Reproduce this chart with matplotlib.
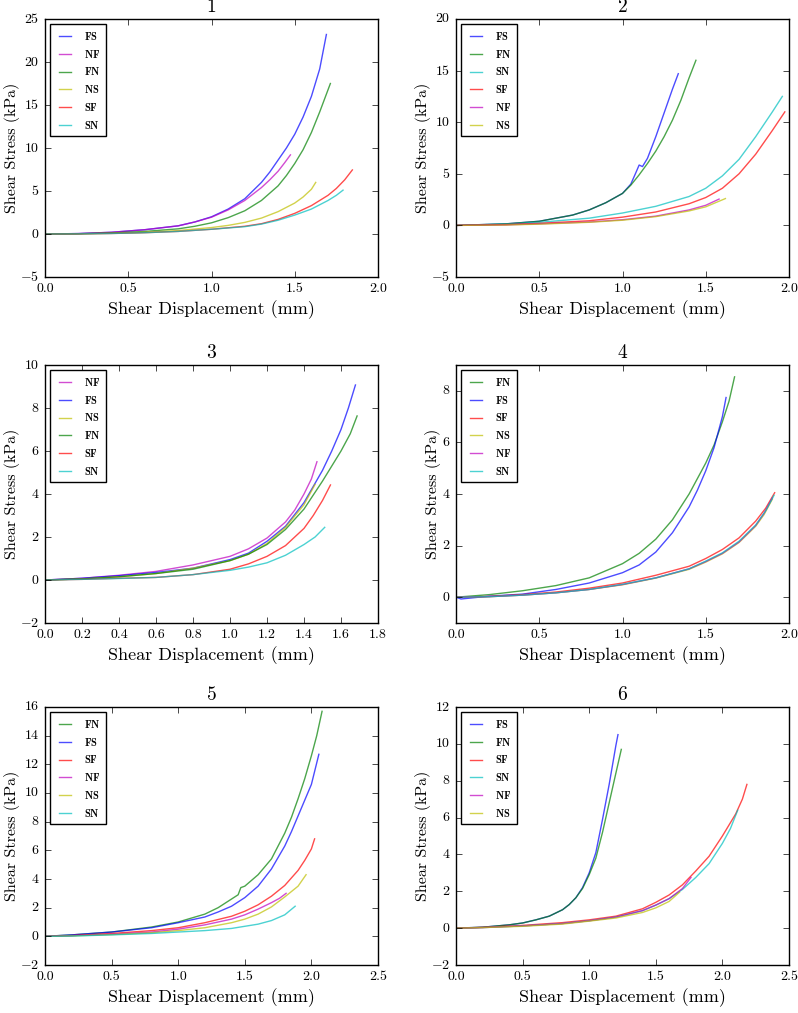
import matplotlib
matplotlib.use("Agg")
import matplotlib.pyplot as plt

# =======================
# Veri
# =======================
# Panel 1
x1_FS = [0, 0.2, 0.4, 0.6, 0.8, 0.9, 1.0, 1.1, 1.2, 1.3, 1.35, 1.4, 1.45, 1.5, 1.55, 1.6, 1.65, 1.69]
y1_FS = [0, 0.05, 0.2, 0.5, 0.95, 1.4, 2.0, 2.9, 4.1, 6.0, 7.2, 8.6, 10.0, 11.6, 13.6, 16.0, 19.2, 23.2]
x1_NF = [0, 0.2, 0.4, 0.6, 0.8, 0.9, 1.0, 1.1, 1.2, 1.3, 1.35, 1.4, 1.44, 1.474]
y1_NF = [0, 0.05, 0.2, 0.5, 0.95, 1.4, 1.95, 2.8, 3.9, 5.4, 6.3, 7.3, 8.3, 9.2]
x1_FN = [0, 0.2, 0.4, 0.6, 0.8, 0.9, 1.0, 1.1, 1.2, 1.3, 1.4, 1.45, 1.5, 1.55, 1.6, 1.65, 1.714]
y1_FN = [0, 0.03, 0.12, 0.3, 0.6, 0.9, 1.3, 1.9, 2.7, 3.9, 5.6, 6.8, 8.2, 9.8, 11.8, 14.2, 17.5]
x1_NS = [0, 0.2, 0.4, 0.6, 0.8, 1.0, 1.1, 1.2, 1.3, 1.4, 1.5, 1.55, 1.6, 1.626]
y1_NS = [0, 0.02, 0.08, 0.2, 0.4, 0.75, 1.0, 1.35, 1.85, 2.6, 3.6, 4.3, 5.2, 6.0]
x1_SF = [0, 0.2, 0.4, 0.6, 0.8, 1.0, 1.2, 1.3, 1.4, 1.5, 1.6, 1.7, 1.75, 1.8, 1.846]
y1_SF = [0, 0.02, 0.06, 0.15, 0.3, 0.55, 0.9, 1.2, 1.7, 2.4, 3.3, 4.5, 5.3, 6.3, 7.45]
x1_SN = [0, 0.2, 0.4, 0.6, 0.8, 1.0, 1.2, 1.3, 1.4, 1.5, 1.6, 1.7, 1.75, 1.79]
y1_SN = [0, 0.02, 0.06, 0.15, 0.3, 0.55, 0.85, 1.15, 1.6, 2.2, 2.9, 3.9, 4.5, 5.1]

# Panel 2
x2_FS = [0, 0.3, 0.5, 0.7, 0.8, 0.9, 1.0, 1.05, 1.08, 1.1, 1.12, 1.15, 1.2, 1.25, 1.3, 1.335]
y2_FS = [0, 0.15, 0.4, 1.0, 1.5, 2.2, 3.1, 4.0, 5.1, 5.85, 5.7, 6.5, 8.6, 10.9, 13.2, 14.7]
x2_FN = [0, 0.3, 0.5, 0.7, 0.8, 0.9, 1.0, 1.05, 1.1, 1.15, 1.2, 1.25, 1.3, 1.35, 1.4, 1.441]
y2_FN = [0, 0.15, 0.4, 1.0, 1.5, 2.2, 3.1, 3.9, 4.9, 6.0, 7.2, 8.6, 10.2, 12.1, 14.3, 16.0]
x2_SN = [0, 0.3, 0.5, 0.8, 1.0, 1.2, 1.4, 1.5, 1.6, 1.7, 1.8, 1.9, 1.96]
y2_SN = [0, 0.12, 0.3, 0.7, 1.2, 1.85, 2.8, 3.6, 4.8, 6.4, 8.6, 11.0, 12.5]
x2_SF = [0, 0.3, 0.5, 0.8, 1.0, 1.2, 1.4, 1.5, 1.6, 1.7, 1.8, 1.9, 1.975]
y2_SF = [0, 0.08, 0.2, 0.45, 0.8, 1.3, 2.1, 2.7, 3.6, 5.0, 6.9, 9.2, 11.0]
x2_NF = [0, 0.3, 0.5, 0.8, 1.0, 1.2, 1.4, 1.5, 1.58]
y2_NF = [0, 0.05, 0.15, 0.33, 0.55, 0.9, 1.5, 1.95, 2.55]
x2_NS = [0, 0.3, 0.5, 0.8, 1.0, 1.2, 1.4, 1.5, 1.618]
y2_NS = [0, 0.04, 0.12, 0.3, 0.5, 0.85, 1.4, 1.8, 2.6]

# Panel 3
x3_NF = [0, 0.2, 0.4, 0.6, 0.8, 1.0, 1.1, 1.2, 1.3, 1.35, 1.4, 1.44, 1.47]
y3_NF = [0, 0.08, 0.22, 0.4, 0.7, 1.1, 1.45, 1.95, 2.7, 3.25, 4.0, 4.7, 5.5]
x3_FS = [0, 0.2, 0.4, 0.6, 0.8, 1.0, 1.1, 1.2, 1.3, 1.4, 1.5, 1.55, 1.6, 1.64, 1.678]
y3_FS = [0, 0.08, 0.2, 0.35, 0.55, 0.95, 1.25, 1.8, 2.5, 3.6, 5.1, 6.0, 7.0, 8.0, 9.07]
x3_NS = [0, 0.2, 0.4, 0.6, 0.8, 1.0, 1.1, 1.2, 1.3, 1.4, 1.46]
y3_NS = [0, 0.05, 0.15, 0.3, 0.55, 0.9, 1.2, 1.7, 2.45, 3.5, 4.45]
x3_FN = [0, 0.2, 0.4, 0.6, 0.8, 1.0, 1.1, 1.2, 1.3, 1.4, 1.5, 1.55, 1.6, 1.65, 1.687]
y3_FN = [0, 0.05, 0.15, 0.3, 0.5, 0.9, 1.2, 1.65, 2.35, 3.3, 4.6, 5.3, 6.0, 6.8, 7.63]
x3_SF = [0, 0.2, 0.4, 0.6, 0.8, 1.0, 1.1, 1.2, 1.3, 1.4, 1.45, 1.5, 1.543]
y3_SF = [0, 0.03, 0.08, 0.12, 0.25, 0.5, 0.75, 1.1, 1.6, 2.4, 3.0, 3.7, 4.42]
x3_SN = [0, 0.2, 0.4, 0.6, 0.8, 1.0, 1.1, 1.2, 1.3, 1.4, 1.46, 1.512]
y3_SN = [0, 0.03, 0.07, 0.12, 0.25, 0.45, 0.6, 0.8, 1.15, 1.65, 2.0, 2.45]

# Panel 4
x4_FN = [0, 0.2, 0.4, 0.6, 0.8, 1.0, 1.1, 1.2, 1.3, 1.4, 1.5, 1.55, 1.6, 1.64, 1.673]
y4_FN = [0, 0.1, 0.25, 0.45, 0.75, 1.3, 1.7, 2.25, 3.0, 4.0, 5.2, 5.9, 6.8, 7.6, 8.54]
x4_FS = [0, 0.03, 0.2, 0.4, 0.6, 0.8, 1.0, 1.1, 1.2, 1.3, 1.4, 1.45, 1.5, 1.55, 1.6, 1.622]
y4_FS = [0, -0.07, 0.04, 0.12, 0.3, 0.55, 0.95, 1.25, 1.75, 2.5, 3.5, 4.15, 4.9, 5.8, 7.0, 7.74]
x4_SF = [0, 0.2, 0.4, 0.6, 0.8, 1.0, 1.2, 1.4, 1.5, 1.6, 1.7, 1.8, 1.86, 1.914]
y4_SF = [0, 0.03, 0.1, 0.2, 0.35, 0.55, 0.85, 1.2, 1.5, 1.85, 2.3, 2.95, 3.45, 4.05]
x4_NS = [0, 0.2, 0.4, 0.6, 0.8, 1.0, 1.2, 1.4, 1.5, 1.6, 1.7, 1.8, 1.85, 1.9]
y4_NS = [0, 0.02, 0.08, 0.17, 0.3, 0.48, 0.74, 1.08, 1.36, 1.68, 2.12, 2.75, 3.2, 3.8]
x4_NF = [0, 0.2, 0.4, 0.6, 0.8, 1.0, 1.2, 1.4, 1.5, 1.6, 1.7, 1.8, 1.85, 1.9]
y4_NF = [0, 0.02, 0.08, 0.17, 0.3, 0.49, 0.75, 1.1, 1.38, 1.7, 2.14, 2.78, 3.25, 3.85]
x4_SN = [0, 0.2, 0.4, 0.6, 0.8, 1.0, 1.2, 1.4, 1.5, 1.6, 1.7, 1.8, 1.86, 1.91]
y4_SN = [0, 0.02, 0.08, 0.17, 0.3, 0.5, 0.75, 1.1, 1.4, 1.72, 2.17, 2.8, 3.35, 3.95]

# Panel 5
x5_FN = [0, 0.2, 0.5, 0.8, 1.0, 1.2, 1.3, 1.4, 1.45, 1.47, 1.5, 1.6, 1.7, 1.8, 1.85, 1.9, 1.95, 2.0, 2.04, 2.08]
y5_FN = [0, 0.1, 0.3, 0.65, 1.0, 1.55, 2.0, 2.6, 2.9, 3.4, 3.5, 4.3, 5.4, 7.2, 8.3, 9.6, 11.0, 12.6, 14.0, 15.7]
x5_FS = [0, 0.2, 0.5, 0.8, 1.0, 1.2, 1.3, 1.4, 1.5, 1.6, 1.7, 1.8, 1.85, 1.9, 1.95, 2.0, 2.056]
y5_FS = [0, 0.1, 0.3, 0.6, 0.95, 1.35, 1.7, 2.1, 2.7, 3.5, 4.7, 6.3, 7.3, 8.4, 9.5, 10.6, 12.7]
x5_SF = [0, 0.2, 0.5, 0.8, 1.0, 1.2, 1.4, 1.5, 1.6, 1.7, 1.8, 1.9, 1.95, 2.0, 2.024]
y5_SF = [0, 0.05, 0.2, 0.4, 0.6, 0.95, 1.4, 1.75, 2.2, 2.8, 3.55, 4.6, 5.3, 6.1, 6.8]
x5_NF = [0, 0.2, 0.5, 0.8, 1.0, 1.2, 1.4, 1.5, 1.6, 1.7, 1.76, 1.81]
y5_NF = [0, 0.05, 0.15, 0.3, 0.5, 0.8, 1.2, 1.5, 1.9, 2.35, 2.65, 3.0]
x5_NS = [0, 0.2, 0.5, 0.8, 1.0, 1.2, 1.4, 1.5, 1.6, 1.7, 1.8, 1.9, 1.96]
y5_NS = [0, 0.03, 0.12, 0.25, 0.4, 0.6, 0.95, 1.2, 1.55, 2.05, 2.75, 3.5, 4.3]
x5_SN = [0, 0.2, 0.5, 0.8, 1.0, 1.2, 1.4, 1.5, 1.6, 1.7, 1.8, 1.878]
y5_SN = [0, 0.02, 0.1, 0.2, 0.3, 0.4, 0.55, 0.7, 0.85, 1.1, 1.5, 2.1]

# Panel 6
x6_FS = [0, 0.2, 0.4, 0.5, 0.6, 0.7, 0.8, 0.85, 0.9, 0.95, 1.0, 1.05, 1.1, 1.15, 1.2, 1.216]
y6_FS = [0, 0.05, 0.18, 0.28, 0.45, 0.65, 1.0, 1.28, 1.65, 2.2, 3.0, 4.1, 5.9, 7.8, 9.9, 10.5]
x6_FN = [0, 0.2, 0.4, 0.5, 0.6, 0.7, 0.8, 0.85, 0.9, 0.95, 1.0, 1.05, 1.1, 1.15, 1.2, 1.241]
y6_FN = [0, 0.05, 0.18, 0.28, 0.45, 0.65, 1.0, 1.28, 1.65, 2.15, 2.9, 3.8, 5.2, 6.8, 8.4, 9.7]
x6_SF = [0, 0.2, 0.5, 0.8, 1.0, 1.2, 1.4, 1.5, 1.6, 1.7, 1.8, 1.9, 2.0, 2.1, 2.15, 2.184]
y6_SF = [0, 0.04, 0.15, 0.3, 0.45, 0.65, 1.05, 1.4, 1.8, 2.35, 3.1, 3.9, 5.0, 6.2, 7.0, 7.8]
x6_SN = [0, 0.2, 0.5, 0.8, 1.0, 1.2, 1.4, 1.5, 1.6, 1.7, 1.8, 1.9, 2.0, 2.06, 2.115]
y6_SN = [0, 0.03, 0.12, 0.25, 0.4, 0.6, 0.95, 1.25, 1.6, 2.1, 2.75, 3.5, 4.6, 5.4, 6.4]
x6_NF = [0, 0.2, 0.5, 0.8, 1.0, 1.2, 1.4, 1.5, 1.6, 1.7, 1.764]
y6_NF = [0, 0.03, 0.12, 0.25, 0.4, 0.6, 0.95, 1.25, 1.6, 2.15, 2.75]
x6_NS = [0, 0.2, 0.5, 0.8, 1.0, 1.2, 1.4, 1.5, 1.6, 1.678]
y6_NS = [0, 0.03, 0.1, 0.22, 0.38, 0.55, 0.85, 1.1, 1.45, 1.95]

# Panel başına sıralama (legend sırası) ve eksen sınırları
panels = [
    ("1", [("FS", x1_FS, y1_FS), ("NF", x1_NF, y1_NF), ("FN", x1_FN, y1_FN),
           ("NS", x1_NS, y1_NS), ("SF", x1_SF, y1_SF), ("SN", x1_SN, y1_SN)],
     (0, 2.0), (-5, 25), [0, 0.5, 1.0, 1.5, 2.0], [-5, 0, 5, 10, 15, 20, 25]),
    ("2", [("FS", x2_FS, y2_FS), ("FN", x2_FN, y2_FN), ("SN", x2_SN, y2_SN),
           ("SF", x2_SF, y2_SF), ("NF", x2_NF, y2_NF), ("NS", x2_NS, y2_NS)],
     (0, 2.0), (-5, 20), [0, 0.5, 1.0, 1.5, 2.0], [-5, 0, 5, 10, 15, 20]),
    ("3", [("NF", x3_NF, y3_NF), ("FS", x3_FS, y3_FS), ("NS", x3_NS, y3_NS),
           ("FN", x3_FN, y3_FN), ("SF", x3_SF, y3_SF), ("SN", x3_SN, y3_SN)],
     (0, 1.8), (-2, 10), [0, 0.2, 0.4, 0.6, 0.8, 1.0, 1.2, 1.4, 1.6, 1.8], [-2, 0, 2, 4, 6, 8, 10]),
    ("4", [("FN", x4_FN, y4_FN), ("FS", x4_FS, y4_FS), ("SF", x4_SF, y4_SF),
           ("NS", x4_NS, y4_NS), ("NF", x4_NF, y4_NF), ("SN", x4_SN, y4_SN)],
     (0, 2.0), (-1, 9), [0, 0.5, 1.0, 1.5, 2.0], [0, 2, 4, 6, 8]),
    ("5", [("FN", x5_FN, y5_FN), ("FS", x5_FS, y5_FS), ("SF", x5_SF, y5_SF),
           ("NF", x5_NF, y5_NF), ("NS", x5_NS, y5_NS), ("SN", x5_SN, y5_SN)],
     (0, 2.5), (-2, 16), [0, 0.5, 1.0, 1.5, 2.0, 2.5], [-2, 0, 2, 4, 6, 8, 10, 12, 14, 16]),
    ("6", [("FS", x6_FS, y6_FS), ("FN", x6_FN, y6_FN), ("SF", x6_SF, y6_SF),
           ("SN", x6_SN, y6_SN), ("NF", x6_NF, y6_NF), ("NS", x6_NS, y6_NS)],
     (0, 2.5), (-2, 12), [0, 0.5, 1.0, 1.5, 2.0, 2.5], [-2, 0, 2, 4, 6, 8, 10, 12]),
]

colors = {"FS": "b", "FN": "g", "SF": "r", "SN": "c", "NF": "m", "NS": "y"}

# =======================
# Stil
# =======================
plt.style.use("classic")
plt.rcParams["font.family"] = "serif"
plt.rcParams["font.serif"] = ["cmr10"]
plt.rcParams["mathtext.fontset"] = "cm"
plt.rcParams["axes.formatter.use_mathtext"] = True
plt.rcParams["axes.unicode_minus"] = True
plt.rcParams["figure.facecolor"] = "white"
plt.rcParams["savefig.facecolor"] = "white"

fig = plt.figure(figsize=(7.98, 10.13), dpi=100)

W, H = 798.0, 1013.0
lefts = [45, 456]
tops = [19, 365, 707]
aw, ah = 333, 258

for i, (title, series, xl, yl, xt, yt) in enumerate(panels):
    r, c = divmod(i, 2)
    ax = fig.add_axes([lefts[c] / W, (H - tops[r] - ah) / H, aw / W, ah / H])
    for name, xs, ys in series:
        ax.plot(xs, ys, color=colors[name], alpha=0.7, lw=1.0, label=r"$\mathbf{%s}$" % name)
    ax.set_xlim(*xl)
    ax.set_ylim(*yl)
    ax.set_xticks(xt)
    ax.set_yticks(yt)
    ax.xaxis.set_major_formatter(matplotlib.ticker.FormatStrFormatter("%.1f"))
    ax.tick_params(labelsize=10, direction="in", top=True, right=True, length=4, pad=4)
    ax.set_title(title, fontsize=14)
    ax.set_xlabel("Shear Displacement (mm)", fontsize=13, labelpad=4)
    ax.set_ylabel("Shear Stress (kPa)", fontsize=11.5, labelpad=0.5)
    leg = ax.legend(loc="upper left", fontsize=7.5, handlelength=1.7, handletextpad=1.0,
                    frameon=True, fancybox=False, borderaxespad=0.5, borderpad=0.55,
                    labelspacing=0.55)
    leg.get_frame().set_edgecolor("black")

fig.savefig("out.png", dpi=100)
